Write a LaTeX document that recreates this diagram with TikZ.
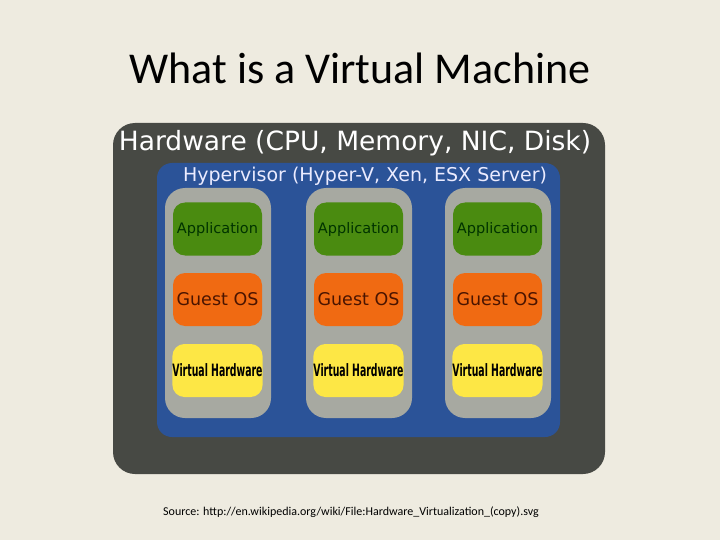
\documentclass[tikz,border=0pt]{standalone}
\usepackage{fontspec}
\setmainfont{Carlito}
\newfontfamily\dvsans{DejaVu Sans}

\definecolor{slidebg}{HTML}{EEEBE0}
\definecolor{hwgray}{HTML}{474944}
\definecolor{hvblue}{HTML}{2B5398}
\definecolor{vmgray}{HTML}{A7A9A1}
\definecolor{appgreen}{HTML}{4A8B10}
\definecolor{osorange}{HTML}{F06A12}
\definecolor{vhwyellow}{HTML}{FDE745}
\definecolor{ostext}{HTML}{4A1400}

\tikzset{
  layer/.style={rounded corners=12pt, minimum width=89pt, minimum height=53pt,
    inner sep=0pt, font=\dvsans},
  vmbox/.style={fill=vmgray, rounded corners=20pt, minimum width=106pt,
    minimum height=230pt},
}

\begin{document}
\begin{tikzpicture}[x=1pt,y=-1pt]
\fill[slidebg] (0,0) rectangle (720,540);
\useasboundingbox (0,0) rectangle (720,540);
\node (title) at (360,68) {\fontsize{44}{50}\selectfont What is a Virtual Machine};
\node[fill=hwgray, rounded corners=22pt, minimum width=492pt, minimum height=351pt] (hw) at (359,298.5) {};
\node[text=white, font=\dvsans\fontsize{26.5}{30}\selectfont, anchor=south] (hwlabel) at (355,160) {Hardware (CPU, Memory, NIC, Disk)};
\node[fill=hvblue, rounded corners=15pt, minimum width=403pt, minimum height=274pt] (hv) at (358.5,300) {};
\node[text=blue!8, font=\dvsans\fontsize{19}{21}\selectfont] (hvlabel) at (365,176) {Hypervisor (Hyper-V, Xen, ESX Server)};
\foreach \x [count=\i] in {218,359,498} {
  \node[vmbox] (vm\i) at (\x,303) {};
  \node[layer, fill=appgreen, text=black!80!green, font=\dvsans\fontsize{14.5}{16}\selectfont] (app\i) at (\x-0.5,229) {Application};
  \node[layer, fill=osorange, text=ostext, font=\dvsans\fontsize{17.5}{19}\selectfont] (os\i) at (\x-0.5,299.5) {Guest OS};
  \node[layer, fill=vhwyellow, text=black] (vhw\i) at (\x-0.5,370.5) {\scalebox{0.55}[1]{\fontsize{17}{19}\selectfont\bfseries Virtual Hardware}};
}
\node[font=\fontsize{12}{14}\selectfont] (source) at (351,512) {Source: http://en.wikipedia.org/wiki/File:Hardware\_Virtualization\_(copy).svg};
\end{tikzpicture}
\end{document}
